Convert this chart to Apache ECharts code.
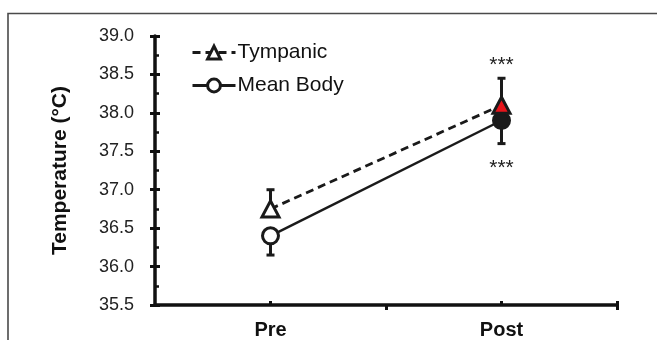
<!DOCTYPE html>
<html>
<head>
<meta charset="utf-8">
<script src="https://cdn.jsdelivr.net/npm/echarts@6/dist/echarts.min.js"></script>
<style>
html,body{margin:0;padding:0;background:#fff;}
#chart{width:657px;height:340px;}
</style>
</head>
<body>
<div id="chart"></div>
<script>
// x slots: blank slots give the spacing of the original axis
const categories = ['', 'Pre', '', 'Post', ''];
const timePoints = ['Pre', 'Post'];
const tympanicMean = [36.75, 38.1];
const tympanicErrTop = [37.0, 38.45];
const tympanicSig = ['', '***'];
const meanBodyMean = [36.4, 37.9];
const meanBodyErrBottom = [36.15, 37.6];
const meanBodySig = ['', '***'];
const yTicks = { min: 35.5, max: 39.0, step: 0.5 };

const FONT = '"Liberation Sans", Arial, sans-serif';

function pairs(ys) { return timePoints.map((t, i) => [t, ys[i]]); }

const errData = [];
timePoints.forEach((t, i) => {
  errData.push([t, tympanicMean[i], tympanicErrTop[i], tympanicSig[i], -1]);
  errData.push([t, meanBodyMean[i], meanBodyErrBottom[i], meanBodySig[i], 1]);
});

const chart = echarts.init(document.getElementById('chart'), null, { renderer: 'canvas' });

const option = {
  animation: false,
  backgroundColor: '#fff',
  graphic: [{
    type: 'polyline',
    shape: { points: [[8, 340], [8, 13.5], [657, 13.5]] },
    style: { stroke: '#4a4a4a', lineWidth: 1.6, fill: null },
    silent: true
  }],
  grid: { left: 155, top: 36, width: 462, height: 269 },
  legend: {
    orient: 'vertical',
    left: 186,
    top: 37,
    itemWidth: 43,
    itemHeight: 16,
    itemGap: 12,
    data: ['Tympanic', 'Mean Body'],
    lineStyle: { width: 3 },
    itemStyle: { borderWidth: 3 },
    textStyle: { fontFamily: FONT, fontSize: 21, color: '#111', padding: [0, 0, 0, -3] }
  },
  xAxis: [{
    type: 'category',
    data: categories,
    boundaryGap: false,
    axisLine: { lineStyle: { color: '#111', width: 3.5 } },
    axisTick: {
      inside: true, length: 4, alignWithLabel: true,
      interval: (idx) => idx === 1 || idx === 3 || idx === 4,
      lineStyle: { color: '#111', width: 3 }
    },
    axisLabel: {
      interval: 0, margin: 15,
      fontFamily: FONT, fontSize: 20, fontWeight: 'bold', color: '#111'
    },
    splitLine: { show: false }
  }, {
    type: 'category',
    data: categories,
    boundaryGap: false,
    position: 'bottom',
    axisLine: { show: false },
    axisTick: {
      inside: false, length: 5,
      interval: (idx) => idx === 2 || idx === 4,
      lineStyle: { color: '#111', width: 3 }
    },
    axisLabel: { show: false },
    splitLine: { show: false }
  }],
  yAxis: [{
    type: 'value',
    min: yTicks.min, max: yTicks.max, interval: yTicks.step,
    axisLine: { show: true, lineStyle: { color: '#111', width: 3.5 } },
    axisTick: { show: true, inside: false, length: 5, lineStyle: { color: '#111', width: 3 } },
    axisLabel: {
      margin: 21, fontFamily: FONT, fontSize: 18, color: '#222',
      formatter: (v) => v.toFixed(1)
    },
    splitLine: { show: false },
    name: 'Temperature (°C)',
    nameLocation: 'middle',
    nameGap: 84,
    nameTextStyle: { fontFamily: FONT, fontSize: 21, fontWeight: 'bold', color: '#111' }
  }, {
    type: 'value',
    min: yTicks.min, max: yTicks.max, interval: yTicks.step,
    position: 'left',
    axisLine: { show: false },
    axisTick: { show: true, inside: true, length: 5, lineStyle: { color: '#111', width: 3 } },
    minorTick: { show: true, splitNumber: 2, length: 4, lineStyle: { color: '#111', width: 2.5 } },
    axisLabel: { show: false },
    splitLine: { show: false }
  }],
  series: [{
    type: 'custom',
    name: 'err',
    z: 1,
    silent: true,
    data: errData,
    renderItem: function (params, api) {
      const x = api.coord([api.value(0), api.value(1)]);
      const e = api.coord([api.value(0), api.value(2)]);
      const sig = api.value(3);
      const dir = api.value(4);
      const capW = 4;
      const children = [
        { type: 'line', shape: { x1: x[0], y1: x[1], x2: e[0], y2: e[1] }, style: { stroke: '#1a1a1a', lineWidth: 3 } },
        { type: 'line', shape: { x1: e[0] - capW, y1: e[1], x2: e[0] + capW, y2: e[1] }, style: { stroke: '#1a1a1a', lineWidth: 3 } }
      ];
      if (sig) {
        children.push({
          type: 'text',
          style: {
            x: e[0], y: e[1] + (dir < 0 ? -13 : 25), text: sig,
            fontFamily: FONT, fontSize: 21, fill: '#222',
            align: 'center', verticalAlign: 'middle'
          }
        });
      }
      return { type: 'group', children: children };
    }
  }, {
    name: 'Mean Body',
    type: 'line',
    z: 3,
    data: pairs(meanBodyMean).map((d, i) => i === 1 ? { value: d, itemStyle: { color: '#1a1a1a' } } : d),
    symbol: 'circle',
    symbolSize: 16,
    showAllSymbol: true,
    lineStyle: { color: '#1a1a1a', width: 2.4, type: 'solid' },
    itemStyle: { color: '#fff', borderColor: '#1a1a1a', borderWidth: 3 }
  }, {
    name: 'Tympanic',
    type: 'line',
    z: 4,
    data: pairs(tympanicMean).map((d, i) => i === 1 ? { value: d, itemStyle: { color: '#e8151b' } } : d),
    symbol: 'triangle',
    symbolSize: [17, 16],
    showAllSymbol: true,
    lineStyle: { color: '#1a1a1a', width: 2.8, type: [8, 5] },
    itemStyle: { color: '#fff', borderColor: '#1a1a1a', borderWidth: 3 }
  }]
};
chart.setOption(option);
</script>
</body>
</html>
